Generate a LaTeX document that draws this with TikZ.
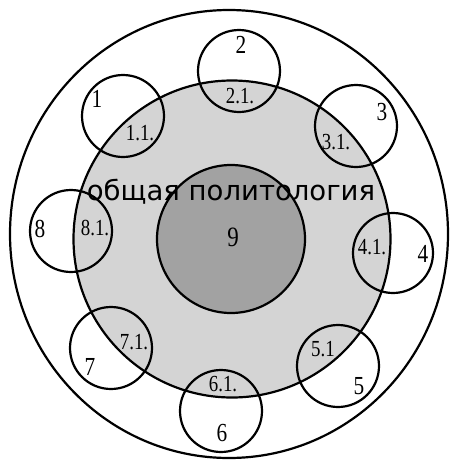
\documentclass[tikz,border=0pt]{standalone}
\usepackage{fontspec}
\usepackage{graphicx}
\setmainfont{Liberation Serif}
\newfontfamily\capfont{DejaVu Sans}
\newcommand\cnd[1]{\scalebox{0.82}[1]{#1}}
\definecolor{lightg}{RGB}{212,212,212}
\definecolor{darkg}{RGB}{162,162,162}
\begin{document}
\begin{tikzpicture}[x=1pt,y=-1pt,
  ring/.style={draw=black,line width=2.2pt,circle,inner sep=0pt},
  num/.style={font=\fontsize{26}{26}\selectfont,inner sep=0pt},
  sub/.style={font=\fontsize{23}{23}\selectfont,inner sep=0pt}]
\useasboundingbox (0,0) rectangle (451,461);
% outer circle
\draw[line width=2.2pt] (229,234) ellipse [x radius=219, y radius=224];
% gray circle fill
\node[circle,fill=lightg,minimum size=317pt,inner sep=0pt] (g) at (232,239) {};
% dark circle
\node[ring,fill=darkg,minimum size=148pt] (d) at (231,239) {};
% small circles
\node[ring,minimum size=82pt] (c1) at (123,116) {};
\node[ring,minimum size=82pt] (c2) at (239,71) {};
\node[ring,minimum size=82pt] (c3) at (356,126) {};
\node[ring,minimum size=80pt] (c4) at (393,253) {};
\node[ring,minimum size=82pt] (c5) at (338,366) {};
\node[ring,minimum size=82pt] (c6) at (221,411) {};
\node[ring,minimum size=82pt] (c7) at (111,348) {};
\node[ring,minimum size=82pt] (c8) at (71,231) {};
% gray circle outline
\node[ring,minimum size=317pt] (go) at (232,239) {};
% labels
\node[num] (n1) at (97,99) {\cnd{1}};
\node[sub] (s1) at (140,133) {\cnd{1.1.}};
\node[num] (n2) at (241,45) {\cnd{2}};
\node[sub] (s2) at (240,96) {\cnd{2.1.}};
\node[num] (n3) at (382,112) {\cnd{3}};
\node[sub] (s3) at (336,142) {\cnd{3.1.}};
\node[num] (n4) at (423,254) {\cnd{4}};
\node[sub] (s4) at (372,247) {\cnd{4.1.}};
\node[num] (n5) at (359,386) {\cnd{5}};
\node[sub] (s5) at (323,349) {\cnd{5.1}};
\node[num] (n6) at (222,433) {\cnd{6}};
\node[sub] (s6) at (223,384) {\cnd{6.1.}};
\node[num] (n7) at (90,367) {\cnd{7}};
\node[sub] (s7) at (134,342) {\cnd{7.1.}};
\node[num] (n8) at (40,229) {\cnd{8}};
\node[sub] (s8) at (95,228) {\cnd{8.1.}};
\node[num,font=\fontsize{28}{28}\selectfont] (n9) at (233,237) {\cnd{9}};
\node[inner sep=0pt,font=\capfont\fontsize{27.5}{27.5}\selectfont] (t) at (231,192) {общая политология};
\end{tikzpicture}
\end{document}
